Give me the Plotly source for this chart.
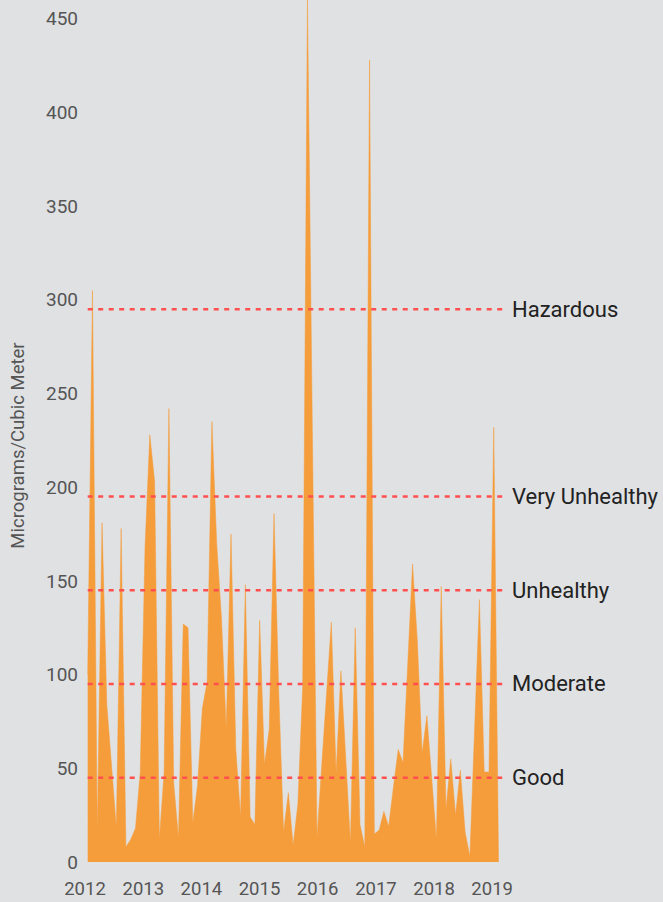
import pandas as pd
import plotly.graph_objects as go

# Data: approx. 30-day readings (micrograms / cubic meter)
values = [100, 305, 15, 181, 84, 50, 18, 178, 8, 12, 18, 48,
          168, 228, 203, 12, 48, 242, 42, 13, 127, 125, 21, 41,
          82, 96, 235, 170, 130, 71, 175, 60, 24, 148, 24, 20,
          129, 52, 71, 186, 90, 16, 37, 9, 31, 93, 460, 236,
          13, 52, 90, 128, 47, 102, 56, 10, 125, 20, 8, 428,
          15, 17, 27, 19, 40, 60, 53, 106, 159, 118, 58, 78,
          45, 12, 147, 28, 55, 25, 49, 16, 3, 72, 140, 48,
          48, 232, 0]
dates = pd.date_range("2012-01-18", periods=len(values), freq="30D")

years = [2012, 2013, 2014, 2015, 2016, 2017, 2018, 2019]
year_ticks = [pd.Timestamp(f"{y}-01-01") for y in years]
year_labels = [str(y) for y in years]

y_ticks = [0, 50, 100, 150, 200, 250, 300, 350, 400, 450]

levels = [45, 95, 145, 195, 295]
level_labels = ["Good", "Moderate", "Unhealthy", "Very Unhealthy", "Hazardous"]

BG = "#e0e1e3"
ORANGE = "#f59d3a"
RED = "#ff4f4f"
FONT = "Roboto"

fig = go.Figure()
fig.add_trace(go.Scatter(
    x=dates, y=values, mode="lines", fill="tozeroy",
    line=dict(color=ORANGE, width=0.5), fillcolor=ORANGE,
    hoverinfo="skip", showlegend=False,
))

x_end = pd.Timestamp("2019-03-10")
for lv, lab in zip(levels, level_labels):
    fig.add_shape(type="line", xref="x", yref="y",
                  x0=dates[0], x1=x_end, y0=lv, y1=lv,
                  line=dict(color=RED, width=2.5, dash="5px,5.5px"), layer="above")
    fig.add_annotation(x=1, xref="paper", y=lv, yref="y", text=lab,
                       showarrow=False, xanchor="left", yanchor="middle",
                       xshift=7, font=dict(family=FONT, size=22, color="#222222"))

fig.add_annotation(x=0, xref="paper", y=0.483, yref="paper",
                   text="Micrograms/Cubic Meter", textangle=-90,
                   showarrow=False, xanchor="center", yanchor="middle",
                   xshift=-67, font=dict(family=FONT, size=18.5, color="#555555"))

fig.update_layout(
    width=663, height=902,
    margin=dict(l=85, r=160, t=0, b=40),
    paper_bgcolor=BG, plot_bgcolor=BG,
    font=dict(family=FONT, size=19, color="#555555"),
    xaxis=dict(range=[pd.Timestamp("2012-01-01"), x_end],
               tickvals=year_ticks, ticktext=year_labels,
               showgrid=False, zeroline=False, showline=False, ticks="",
               ticklabelstandoff=13, tickfont=dict(size=18.5)),
    yaxis=dict(range=[0, 460], tickvals=y_ticks,
               showgrid=False, zeroline=False, showline=False, ticks="",
               ticklabelstandoff=6),
)

fig.write_html("out.html", config={"displayModeBar": False})

# remove the default page margin so the figure fills the window exactly
with open("out.html", "r", encoding="utf-8") as f:
    html = f.read()
html = html.replace("<head>", "<head><style>html,body{margin:0;padding:0;overflow:hidden;}</style>", 1)
with open("out.html", "w", encoding="utf-8") as f:
    f.write(html)
